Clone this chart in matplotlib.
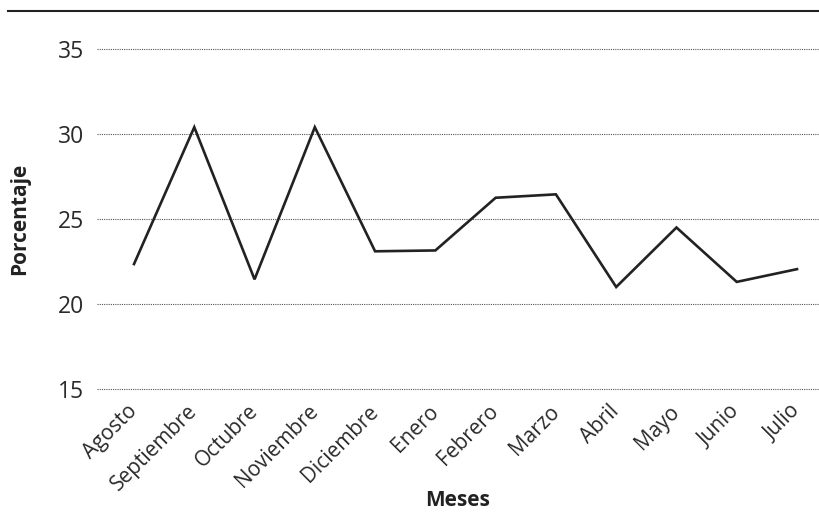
import matplotlib
matplotlib.use("Agg")
import matplotlib.pyplot as plt
from matplotlib.lines import Line2D

plt.rcParams['font.family'] = ['Open Sans', 'DejaVu Sans']

meses = ["Agosto", "Septiembre", "Octubre", "Noviembre", "Diciembre", "Enero",
         "Febrero", "Marzo", "Abril", "Mayo", "Junio", "Julio"]
porcentaje = [22.35, 30.4, 21.45, 30.4, 23.1, 23.15, 26.25, 26.45, 21.0, 24.5, 21.3, 22.05]
yticks = [15, 20, 25, 30, 35]

fig = plt.figure(figsize=(8.19, 5.17), dpi=100)
ax = fig.add_axes([97/819, 1 - 389/517, 1 - 97/819, (389 - 49)/517])

x = list(range(len(meses)))
ax.plot(x, porcentaje, color='#222222', linewidth=1.9, solid_joinstyle='miter')

ax.set_ylim(15, 35)
ax.set_xlim(-0.614, 11.365)
ax.set_yticks(yticks)
ax.set_yticklabels([str(v) for v in yticks], fontsize=16.5, color='#2a2a2a')
ax.set_xticks(x)
ax.set_xticklabels(meses, rotation=45, ha='right', va='center', rotation_mode='anchor',
                   fontsize=15, color='#2a2a2a')
ax.tick_params(axis='both', length=0)
ax.tick_params(axis='y', pad=9)
ax.tick_params(axis='x', pad=14)
ax.grid(axis='y', linestyle=(0, (1, 1)), color='#555555', linewidth=0.8)
for gl in ax.get_ygridlines():
    gl.set_clip_on(False)
ax.set_axisbelow(True)
for s in ax.spines.values():
    s.set_visible(False)

fig.text(20/819, 1 - 219/517, "Porcentaje", rotation=90, ha='center', va='center',
         fontsize=15, fontweight='bold', color='#222222')
fig.text(458/819, 1 - 500/517, "Meses", ha='center', va='center',
         fontsize=15, fontweight='bold', color='#222222')

fig.add_artist(Line2D([8/819, 1.0], [1 - 11/517, 1 - 11/517], transform=fig.transFigure,
                      color='#222222', linewidth=1.5))

fig.savefig("out.png", dpi=100)
